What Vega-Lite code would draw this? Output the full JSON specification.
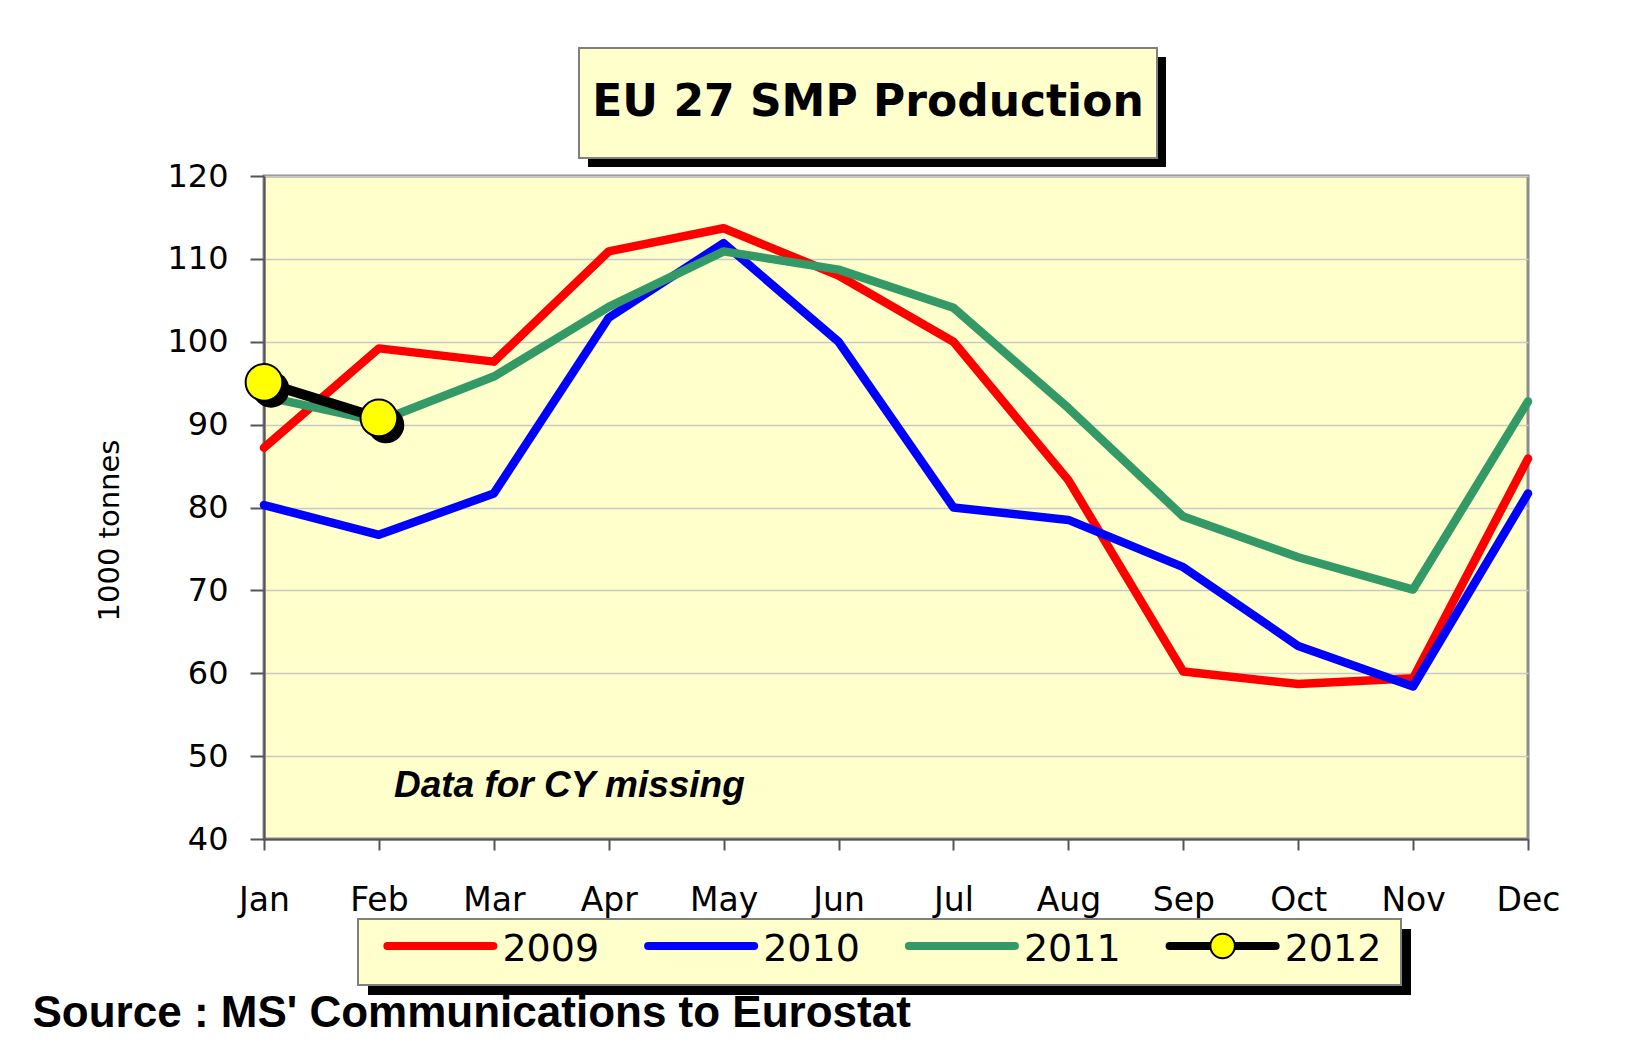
{
  "$schema": "https://vega.github.io/schema/vega-lite/v6.json",
  "background": "white",
  "padding": {"left": 32, "top": 47, "right": 5, "bottom": 2},
  "title": {"text": "Source : MS' Communications to Eurostat", "orient": "bottom", "anchor": "start", "frame": "bounds", "dx": -61, "offset": -3, "baseline": "top", "font": "Liberation Sans", "fontSize": 44, "fontWeight": "bold", "color": "black"},
  "spacing": -9,
  "vconcat": [
    {
      "spacing": 0,
      "hconcat": [
        {"width": 314, "height": 10, "data": {"values": [{}]}, "mark": {"type": "text"}, "encoding": {"text": {"value": ""}}},
        {
          "width": 578, "height": 110,
          "data": {"values": [{"t": "EU 27 SMP Production"}]},
          "layer": [
            {"mark": {"type": "rect", "color": "black", "xOffset": 9, "x2Offset": 9, "yOffset": 9, "y2Offset": 9},
             "encoding": {
               "x": {"datum": 0, "type": "quantitative", "scale": {"domain": [0, 1], "nice": false, "zero": false}, "axis": null},
               "x2": {"datum": 1},
               "y": {"datum": 0, "type": "quantitative", "scale": {"domain": [0, 1], "nice": false, "zero": false}, "axis": null},
               "y2": {"datum": 1}}},
            {"mark": {"type": "rect", "fill": "#FFFFCC", "stroke": "#808080", "strokeWidth": 2},
             "encoding": {
               "x": {"datum": 0, "type": "quantitative"},
               "x2": {"datum": 1},
               "y": {"datum": 0, "type": "quantitative"},
               "y2": {"datum": 1}}},
            {"mark": {"type": "text", "font": "DejaVu Sans", "fontWeight": "bold", "fontSize": 44, "color": "black", "baseline": "middle", "align": "center"}, "encoding": {"text": {"field": "t"}}}
          ]
        }
      ]
    },
    {
      "width": 1264, "height": 663,
      "view": {"fill": "#FFFFCC", "stroke": "#8C8C8C", "strokeWidth": 3},
      "data": {"values": [
        {"month": "Jan", "year": "2009", "value": 87.2},
        {"month": "Feb", "year": "2009", "value": 99.2},
        {"month": "Mar", "year": "2009", "value": 97.6},
        {"month": "Apr", "year": "2009", "value": 110.9},
        {"month": "May", "year": "2009", "value": 113.7},
        {"month": "Jun", "year": "2009", "value": 108.0},
        {"month": "Jul", "year": "2009", "value": 100.0},
        {"month": "Aug", "year": "2009", "value": 83.3},
        {"month": "Sep", "year": "2009", "value": 60.2},
        {"month": "Oct", "year": "2009", "value": 58.7},
        {"month": "Nov", "year": "2009", "value": 59.4},
        {"month": "Dec", "year": "2009", "value": 85.9},
        {"month": "Jan", "year": "2010", "value": 80.3},
        {"month": "Feb", "year": "2010", "value": 76.7},
        {"month": "Mar", "year": "2010", "value": 81.7},
        {"month": "Apr", "year": "2010", "value": 102.9},
        {"month": "May", "year": "2010", "value": 111.9},
        {"month": "Jun", "year": "2010", "value": 100.0},
        {"month": "Jul", "year": "2010", "value": 80.0},
        {"month": "Aug", "year": "2010", "value": 78.5},
        {"month": "Sep", "year": "2010", "value": 72.8},
        {"month": "Oct", "year": "2010", "value": 63.3},
        {"month": "Nov", "year": "2010", "value": 58.4},
        {"month": "Dec", "year": "2010", "value": 81.7},
        {"month": "Jan", "year": "2011", "value": 93.4},
        {"month": "Feb", "year": "2011", "value": 90.4},
        {"month": "Mar", "year": "2011", "value": 95.8},
        {"month": "Apr", "year": "2011", "value": 104.2},
        {"month": "May", "year": "2011", "value": 110.9},
        {"month": "Jun", "year": "2011", "value": 108.7},
        {"month": "Jul", "year": "2011", "value": 104.1},
        {"month": "Aug", "year": "2011", "value": 92.0},
        {"month": "Sep", "year": "2011", "value": 78.9},
        {"month": "Oct", "year": "2011", "value": 74.0},
        {"month": "Nov", "year": "2011", "value": 70.1},
        {"month": "Dec", "year": "2011", "value": 92.8},
        {"month": "Jan", "year": "2012", "value": 95.1},
        {"month": "Feb", "year": "2012", "value": 90.8}
      ]},
      "encoding": {
        "x": {"field": "month", "type": "ordinal",
          "scale": {"type": "point", "padding": 0, "domain": ["Jan","Feb","Mar","Apr","May","Jun","Jul","Aug","Sep","Oct","Nov","Dec"]},
          "axis": {"title": null, "labelAngle": 0, "labelFont": "DejaVu Sans", "labelFontSize": 33, "labelColor": "black", "labelPadding": 34, "tickSize": 11, "tickColor": "#555555", "tickWidth": 2, "domainColor": "#555555", "domainWidth": 2, "grid": false}},
        "y": {"field": "value", "type": "quantitative",
          "scale": {"domain": [40, 120], "nice": false, "zero": false},
          "axis": {"title": "1000 tonnes", "titleFont": "DejaVu Sans", "titleFontSize": 29, "titleFontWeight": "normal", "titleColor": "black", "titleX": -155, "titleY": 354, "titleBaseline": "middle", "values": [40,50,60,70,80,90,100,110,120], "labelFont": "DejaVu Sans", "labelFontSize": 32, "labelColor": "black", "labelPadding": 22, "tickSize": 14, "tickColor": "#555555", "tickWidth": 2, "domainColor": "#555555", "domainWidth": 2, "grid": true, "gridColor": "#C8C8C8", "gridWidth": 1.5}}
      },
      "layer": [
        {"transform": [{"filter": "datum.year != '2012'"}],
         "mark": {"type": "line", "strokeWidth": 8.5, "strokeCap": "round", "strokeJoin": "round"},
         "encoding": {"color": {"field": "year", "type": "nominal", "scale": {"domain": ["2009","2010","2011","2012"], "range": ["#FF0000","#0000FF","#339966","#000000"]}, "legend": null}}},
        {"transform": [{"filter": "datum.year == '2012'"}],
         "mark": {"type": "line", "strokeWidth": 10, "color": "black", "strokeCap": "round"}},
        {"transform": [{"filter": "datum.year == '2012'"}],
         "mark": {"type": "point", "filled": true, "color": "black", "size": 1350, "opacity": 1, "xOffset": 7, "yOffset": 7}},
        {"transform": [{"filter": "datum.year == '2012'"}],
         "mark": {"type": "point", "filled": true, "fill": "#FFFF00", "stroke": "black", "strokeWidth": 2, "size": 1350, "opacity": 1}},
        {"transform": [{"filter": "datum.year == '2012' && datum.month == 'Feb'"}],
         "mark": {"type": "text", "font": "Liberation Sans", "fontWeight": "bold", "fontStyle": "italic", "fontSize": 37, "fill": "black", "align": "left", "baseline": "bottom", "dx": 15, "dy": 7},
         "encoding": {"y": {"datum": 45}, "text": {"value": "Data for CY missing"}}}
      ]
    },
    {
      "spacing": 0,
      "hconcat": [
        {"width": 93, "height": 10, "data": {"values": [{}]}, "mark": {"type": "text"}, "encoding": {"text": {"value": ""}}},
        {
          "width": 1043, "height": 66,
          "data": {"values": [{"year": "2009"}, {"year": "2010"}, {"year": "2011"}, {"year": "2012"}]},
          "resolve": {"scale": {"x": "independent", "y": "independent"}},
          "layer": [
            {"mark": {"type": "rect", "color": "black", "xOffset": 10, "x2Offset": 10, "yOffset": 10, "y2Offset": 10},
             "encoding": {
               "x": {"datum": 0, "type": "quantitative", "scale": {"domain": [0, 1], "nice": false, "zero": false}, "axis": null},
               "x2": {"datum": 1},
               "y": {"datum": 0, "type": "quantitative", "scale": {"domain": [0, 1], "nice": false, "zero": false}, "axis": null},
               "y2": {"datum": 1}}},
            {"mark": {"type": "rect", "fill": "#FFFFCC", "stroke": "#808080", "strokeWidth": 2},
             "encoding": {
               "x": {"datum": 0, "type": "quantitative", "scale": {"domain": [0, 1], "nice": false, "zero": false}, "axis": null},
               "x2": {"datum": 1},
               "y": {"datum": 0, "type": "quantitative", "scale": {"domain": [0, 1], "nice": false, "zero": false}, "axis": null},
               "y2": {"datum": 1}}},
            {"layer": [
              {"mark": {"type": "rule", "strokeWidth": 8, "strokeCap": "round", "xOffset": -101, "x2Offset": 5, "yOffset": -6},
               "encoding": {
                 "x": {"field": "year", "type": "ordinal", "scale": {"type": "point", "padding": 0.5}, "axis": null},
                 "x2": {"field": "year"},
                 "color": {"field": "year", "type": "nominal", "scale": {"domain": ["2009","2010","2011","2012"], "range": ["#FF0000","#0000FF","#339966","#000000"]}, "legend": null}}},
              {"transform": [{"filter": "datum.year == '2012'"}],
               "mark": {"type": "point", "filled": true, "fill": "#FFFF00", "stroke": "black", "strokeWidth": 2, "size": 600, "opacity": 1, "xOffset": -48, "yOffset": -6},
               "encoding": {"x": {"field": "year", "type": "ordinal", "axis": null}}},
              {"mark": {"type": "text", "font": "DejaVu Sans", "fontSize": 38, "color": "black", "align": "left", "baseline": "middle", "xOffset": 14, "yOffset": -2},
               "encoding": {"x": {"field": "year", "type": "ordinal", "axis": null}, "text": {"field": "year"}}}
            ]}
          ]
        }
      ]
    }
  ],
  "config": {"view": {"stroke": null}}
}
